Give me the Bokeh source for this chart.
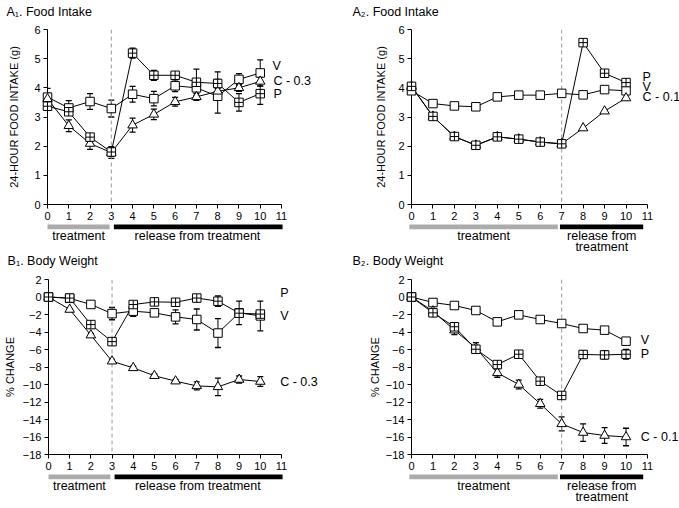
from bokeh.plotting import figure
from bokeh.models import Range1d, FixedTicker, Span, Whisker, TeeHead, ColumnDataSource
from bokeh.core.properties import value
from bokeh.layouts import column, row
from bokeh.embed import file_html
from bokeh.resources import INLINE

# ---------------- data ----------------
DAYS = list(range(11))
X_TICKS = list(range(12))
A_Y_TICKS = list(range(0, 7))
B_Y_TICKS = list(range(-18, 3, 2))

# A1 food intake (g), C - 0.3
A1_V = [3.68, 3.31, 3.53, 3.29, 3.78, 3.63, 4.07, 4.00, 3.71, 4.29, 4.51]
A1_V_ERR = [0.30, 0.25, 0.27, 0.29, 0.27, 0.25, 0.20, 0.30, 0.58, 0.20, 0.45]
A1_P = [3.37, 3.18, 2.31, 1.80, 5.19, 4.43, 4.43, 4.19, 4.15, 3.50, 3.80]
A1_P_ERR = [0.12, 0.12, 0.12, 0.15, 0.17, 0.17, 0.12, 0.45, 0.40, 0.30, 0.37]
A1_C = [3.62, 2.70, 2.09, 1.78, 2.72, 3.09, 3.52, 3.69, 3.88, 4.00, 4.22]
A1_C_ERR = [0.20, 0.20, 0.20, 0.20, 0.24, 0.18, 0.15, 0.12, 0.10, 0.12, 0.15]

# A2 food intake (g), C - 0.1
A2_V = [3.90, 3.46, 3.38, 3.35, 3.69, 3.75, 3.75, 3.81, 3.76, 3.94, 3.90]
A2_P = [4.05, 3.02, 2.33, 2.03, 2.32, 2.24, 2.14, 2.08, 5.55, 4.50, 4.18]
A2_C = [4.05, 3.02, 2.33, 2.03, 2.32, 2.24, 2.14, 2.08, 2.62, 3.20, 3.65]

# B1 body weight (% change), C - 0.3
B1_V = [0, -0.15, -0.85, -1.90, -1.62, -1.81, -2.27, -2.57, -4.12, -1.81, -2.16]
B1_V_ERR = [0, 0.10, 0.20, 0.70, 0.60, 0.40, 0.80, 1.20, 1.65, 1.35, 1.70]
B1_P = [0, -0.12, -3.15, -5.10, -0.86, -0.56, -0.60, -0.12, -0.48, -1.85, -1.95]
B1_P_ERR = [0, 0.10, 0.30, 0.35, 0.30, 0.35, 0.40, 0.40, 0.60, 0.30, 0.30]
B1_C = [0, -1.43, -4.36, -7.34, -8.10, -9.00, -9.62, -10.16, -10.27, -9.43, -9.66]
B1_C_ERR = [0, 0.10, 0.20, 0.20, 0.20, 0.20, 0.20, 0.45, 1.00, 0.40, 0.55]

# B2 body weight (% change), C - 0.1
B2_V = [0, -0.63, -0.97, -1.54, -2.84, -2.04, -2.57, -3.03, -3.60, -3.79, -5.05]
B2_V_ERR = [0, 0.10, 0.10, 0.10, 0.15, 0.15, 0.15, 0.15, 0.15, 0.20, 0.35]
B2_P = [0, -1.81, -3.40, -5.97, -7.72, -6.54, -9.62, -11.25, -6.57, -6.62, -6.54]
B2_P_ERR = [0, 0.20, 0.30, 0.40, 0.35, 0.30, 0.30, 0.30, 0.45, 0.45, 0.55]
B2_C = [0, -1.62, -3.79, -5.81, -8.67, -10.00, -12.20, -14.50, -15.49, -15.83, -16.00]
B2_C_ERR = [0, 0.30, 0.50, 0.60, 0.50, 0.50, 0.50, 0.80, 1.00, 0.90, 1.00]

TITLES = ["A\u2081. Food Intake", "A\u2082. Food Intake", "B\u2081. Body Weight", "B\u2082. Body Weight"]
Y_LABELS = ["24-HOUR FOOD INTAKE (g)", "% CHANGE"]
DOSE_1 = "C - 0.3"
DOSE_2 = "C - 0.1"
SPLIT_1 = 3   # last treatment day, experiment 1
SPLIT_2 = 7   # last treatment day, experiment 2
TREAT_TEXT = "treatment"
RELEASE_TEXT = "release from treatment"

# ---------------- style / layout ----------------
FONT = "Liberation Sans"
FRAME_H = 175
GRAY_BAR = "#ababab"
MARKERS = {"V": ("square", 8.5), "P": ("square_cross", 8.5), "C": ("triangle", 9.5)}


def add_text(p, xs, ys, texts, align="left", size="12.5px"):
    p.text(x=xs, y=ys, text=texts, text_font=value(FONT), text_font_size=value(size),
           text_align=align, text_baseline="middle", text_color="black", level="overlay")


def panel(title, ylabel, yr, yticks, series, split, bars, labels, texts,
          w, h, bl, br, bt, bb, title_x, title_px, ylab_standoff):
    p = figure(width=w, height=h, x_range=Range1d(0, 11), y_range=Range1d(*yr),
               output_backend="svg", toolbar_location=None,
               min_border_left=bl, min_border_right=br, min_border_top=bt, min_border_bottom=bb)
    p.outline_line_color = None
    p.xgrid.visible = False
    p.ygrid.visible = False
    p.background_fill_color = "white"
    p.border_fill_color = "white"

    p.xaxis.ticker = FixedTicker(ticks=X_TICKS)
    p.yaxis.ticker = FixedTicker(ticks=yticks)
    for ax in (p.xaxis[0], p.yaxis[0]):
        ax.major_tick_in = 0
        ax.major_tick_out = 4
        ax.minor_tick_in = 0
        ax.minor_tick_out = 0
        ax.axis_line_color = "black"
        ax.major_tick_line_color = "black"
        ax.major_label_text_font = FONT
        ax.major_label_text_font_size = "11px"
        ax.major_label_text_color = "black"
        ax.major_label_standoff = 3
    p.yaxis.axis_label = ylabel
    p.yaxis.axis_label_text_font = FONT
    p.yaxis.axis_label_text_font_size = "11px"
    p.yaxis.axis_label_text_font_style = "normal"
    p.yaxis.axis_label_text_color = "black"
    p.yaxis.axis_label_standoff = ylab_standoff

    p.add_layout(Span(location=split, dimension="height", line_color="#9a9a9a",
                      line_dash="4 3", line_width=1))

    # error bars
    for key, vals, errs in series:
        if errs is None:
            continue
        xs = [d for d, e in zip(DAYS, errs) if e > 0]
        up = [v + e for v, e in zip(vals, errs) if e > 0]
        lo = [v - e for v, e in zip(vals, errs) if e > 0]
        src = ColumnDataSource(dict(x=xs, upper=up, lower=lo))
        p.add_layout(Whisker(source=src, base="x", upper="upper", lower="lower",
                             line_color="black", line_width=1,
                             upper_head=TeeHead(size=6, line_color="black", line_width=1.3),
                             lower_head=TeeHead(size=6, line_color="black", line_width=1.3)))
    # lines
    for key, vals, errs in series:
        p.line(DAYS, vals, line_color="black", line_width=1, level="overlay")
    # markers
    for key, vals, errs in series:
        m, s = MARKERS[key]
        p.scatter(DAYS, vals, marker=m, size=s, fill_color="white", line_color="black",
                  line_width=1, level="overlay")

    scale = (yr[1] - yr[0]) / FRAME_H   # data units per pixel

    # title above the frame
    add_text(p, [title_x], [yr[1] + title_px * scale], [title], size="12.5px")

    # treatment bars below axis
    yb = yr[0] - 22.4 * scale
    (g0, g1), (k0, k1) = bars
    p.quad(left=[g0, k0], right=[g1, k1], bottom=yb - 2.3 * scale, top=yb + 2.3 * scale,
           fill_color=[GRAY_BAR, "black"], line_color=None, level="overlay")
    add_text(p, [t[1] for t in texts], [yr[0] - (31.5 + 11.2 * t[2]) * scale for t in texts],
             [t[0] for t in texts], align="center")

    # series labels at right
    add_text(p, [t[1] for t in labels], [t[2] for t in labels], [t[0] for t in labels])
    return p


a1 = panel(TITLES[0], Y_LABELS[0], (0, 6), A_Y_TICKS,
           [("V", A1_V, A1_V_ERR), ("C", A1_C, A1_C_ERR), ("P", A1_P, A1_P_ERR)],
           SPLIT_1, ((0, SPLIT_1 - 0.08), (SPLIT_1 + 0.12, 11.05)),
           [("V", 10.58, 4.74), (DOSE_1, 10.62, 4.23), ("P", 10.62, 3.78)],
           [(TREAT_TEXT, 1.46, 0), (RELEASE_TEXT, 7.05, 0)],
           340, 254, 47, 59, 29, 50, -1.93, 17.3, 11)

a2 = panel(TITLES[1], Y_LABELS[0], (0, 6), A_Y_TICKS,
           [("V", A2_V, None), ("C", A2_C, None), ("P", A2_P, None)],
           SPLIT_2, ((-0.1, SPLIT_2 - 0.18), (SPLIT_2 - 0.08, 10.8)),
           [("P", 10.77, 4.36), ("V", 10.77, 4.02), (DOSE_2, 10.77, 3.68)],
           [(TREAT_TEXT, 3.36, 0), ("release from", 8.87, 0), ("treatment", 8.87, 1)],
           339, 254, 71, 32, 29, 50, -2.75, 17.3, 8)

b1 = panel(TITLES[2], Y_LABELS[1], (-18, 2), B_Y_TICKS,
           [("V", B1_V, B1_V_ERR), ("C", B1_C, B1_C_ERR), ("P", B1_P, B1_P_ERR)],
           SPLIT_1, ((0, SPLIT_1 - 0.08), (SPLIT_1 + 0.12, 11.05)),
           [("P", 10.94, 0.43), ("V", 10.94, -2.19), (DOSE_1, 10.94, -9.7)],
           [(TREAT_TEXT, 1.46, 0), (RELEASE_TEXT, 7.05, 0)],
           340, 254, 47, 59, 25, 54, -1.93, 18.3, 4)

b2 = panel(TITLES[3], Y_LABELS[1], (-18, 2), B_Y_TICKS,
           [("V", B2_V, B2_V_ERR), ("C", B2_C, B2_C_ERR), ("P", B2_P, B2_P_ERR)],
           SPLIT_2, ((-0.1, SPLIT_2 - 0.18), (SPLIT_2 - 0.08, 10.8)),
           [("V", 10.69, -4.94), ("P", 10.69, -6.54), (DOSE_2, 10.69, -16.0)],
           [(TREAT_TEXT, 3.36, 0), ("release from", 8.87, 0), ("treatment", 8.87, 1)],
           339, 254, 71, 32, 25, 54, -2.75, 18.3, 2)

layout = column(row(a1, a2), row(b1, b2))
open("out.html", "w").write(file_html(layout, INLINE))
